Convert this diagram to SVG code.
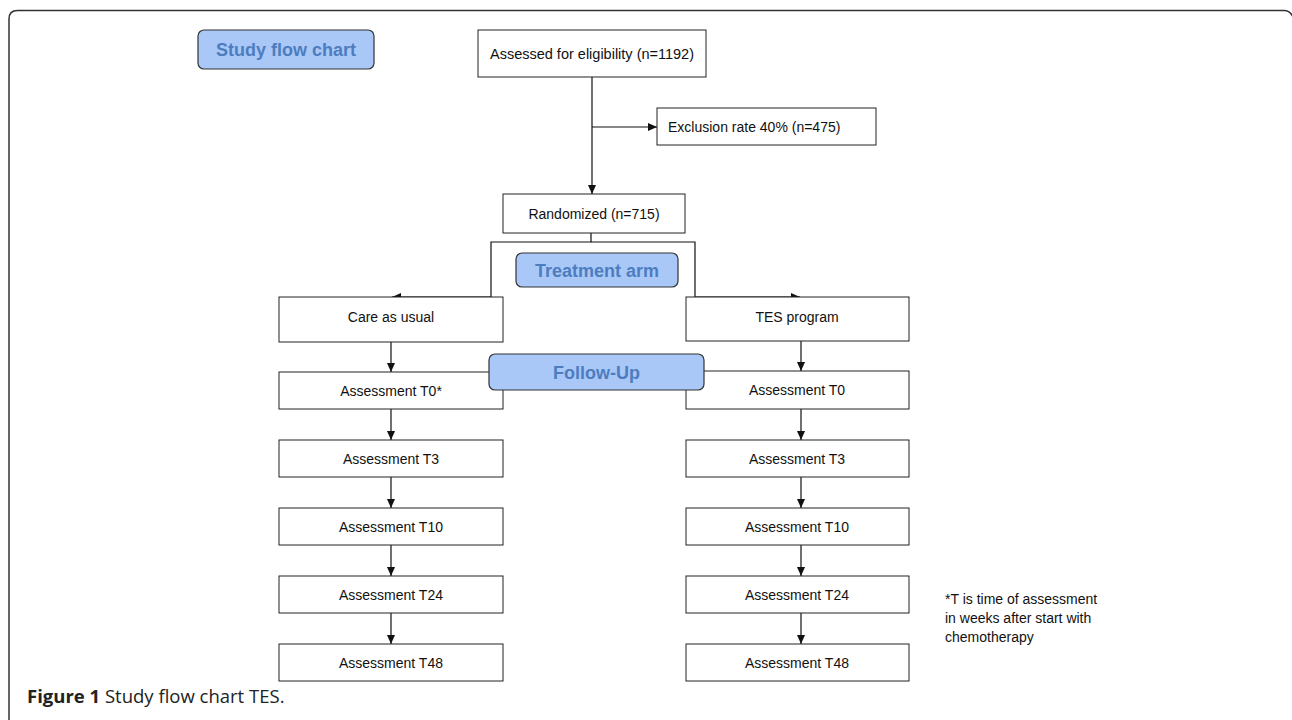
<svg xmlns="http://www.w3.org/2000/svg" width="1292" height="720" viewBox="0 0 1292 720">
<defs>
<marker id="arr" markerWidth="9" markerHeight="8" refX="9" refY="4" orient="auto" markerUnits="userSpaceOnUse">
<path d="M0,0 L9,4 L0,8 z" fill="#111"/>
</marker>
<style>
.box{fill:#fff;stroke:#222;stroke-width:1}
.lbl{fill:#a9c8f8;stroke:#333;stroke-width:1.2}
.t{font-family:"Liberation Sans",Arial,sans-serif;font-size:14px;fill:#111;text-anchor:middle}
.b{font-family:"Liberation Sans",Arial,sans-serif;font-size:18px;font-weight:bold;fill:#4d7dbf;text-anchor:middle}
.c{fill:none;stroke:#111;stroke-width:1.2}
</style>
</defs>
<rect width="1292" height="720" fill="#fff"/>
<path d="M9 720 V19 Q9 10.5 17.5 10.5 H1284 Q1290 10.5 1293 17" fill="none" stroke="#333" stroke-width="1.5"/>

<g id="connectors">
<path class="c" d="M592 77 V194" marker-end="url(#arr)"/>
<path class="c" d="M592 127 H657" marker-end="url(#arr)"/>
<path class="c" d="M591 233 V242 H491 V297 H392" marker-end="url(#arr)"/>
<path class="c" d="M591 242 H695 V297 H800" marker-end="url(#arr)"/>
<path class="c" d="M391 342 V372" marker-end="url(#arr)"/>
<path class="c" d="M391 409 V440" marker-end="url(#arr)"/>
<path class="c" d="M391 477 V508" marker-end="url(#arr)"/>
<path class="c" d="M391 545 V576" marker-end="url(#arr)"/>
<path class="c" d="M391 613 V644" marker-end="url(#arr)"/>
<path class="c" d="M801 341 V371" marker-end="url(#arr)"/>
<path class="c" d="M801 409 V440" marker-end="url(#arr)"/>
<path class="c" d="M801 477 V508" marker-end="url(#arr)"/>
<path class="c" d="M801 545 V576" marker-end="url(#arr)"/>
<path class="c" d="M801 613 V644" marker-end="url(#arr)"/>
</g>

<g id="study-flow-chart"><rect class="lbl" x="198" y="30" width="176" height="39" rx="6"/><text class="b" x="286" y="56">Study flow chart</text></g>
<g id="assessed"><rect class="box" x="478" y="30" width="228" height="47"/><text class="t" x="592" y="58.5" style="font-size:14.5px">Assessed for eligibility (n=1192)</text></g>
<g id="exclusion"><rect class="box" x="657" y="108" width="219" height="37"/><text class="t" x="668" y="131.5" style="text-anchor:start">Exclusion rate 40% (n=475)</text></g>
<g id="randomized"><rect class="box" x="503" y="194" width="182" height="39"/><text class="t" x="594" y="218.5">Randomized (n=715)</text></g>
<g id="treatment-arm"><rect class="lbl" x="516" y="253" width="162" height="34" rx="6"/><text class="b" x="597" y="276.5">Treatment arm</text></g>
<g id="care-as-usual"><rect class="box" x="279" y="297" width="224" height="45"/><text class="t" x="391" y="322">Care as usual</text></g>
<g id="tes-program"><rect class="box" x="686" y="297" width="223" height="44"/><text class="t" x="797" y="322">TES program</text></g>

<g id="left-t0"><rect class="box" x="279" y="372" width="224" height="37"/><text class="t" x="391" y="395.5">Assessment T0*</text></g>
<g id="left-t3"><rect class="box" x="279" y="440" width="224" height="37"/><text class="t" x="391" y="463.5">Assessment T3</text></g>
<g id="left-t10"><rect class="box" x="279" y="508" width="224" height="37"/><text class="t" x="391" y="531.5">Assessment T10</text></g>
<g id="left-t24"><rect class="box" x="279" y="576" width="224" height="37"/><text class="t" x="391" y="599.5">Assessment T24</text></g>
<g id="left-t48"><rect class="box" x="279" y="644" width="224" height="37"/><text class="t" x="391" y="667.5">Assessment T48</text></g>

<g id="right-t0"><rect class="box" x="686" y="371" width="223" height="38"/><text class="t" x="797" y="395">Assessment T0</text></g>
<g id="right-t3"><rect class="box" x="686" y="440" width="223" height="37"/><text class="t" x="797" y="463.5">Assessment T3</text></g>
<g id="right-t10"><rect class="box" x="686" y="508" width="223" height="37"/><text class="t" x="797" y="531.5">Assessment T10</text></g>
<g id="right-t24"><rect class="box" x="686" y="576" width="223" height="37"/><text class="t" x="797" y="599.5">Assessment T24</text></g>
<g id="right-t48"><rect class="box" x="686" y="644" width="223" height="37"/><text class="t" x="797" y="667.5">Assessment T48</text></g>

<g id="follow-up"><rect class="lbl" x="489" y="354" width="215" height="36" rx="6"/><text class="b" x="596.5" y="378.5">Follow-Up</text></g>

<g id="note"><text class="t" style="text-anchor:start" x="945"><tspan x="945" y="604">*T is time of assessment</tspan><tspan x="945" y="623">in weeks after start with</tspan><tspan x="945" y="642">chemotherapy</tspan></text></g>

<text x="27" y="703" style="font-family:'Open Sans','Noto Sans',sans-serif;font-size:18.5px;fill:#222"><tspan font-weight="bold">Figure 1</tspan> Study flow chart TES.</text>
</svg>
